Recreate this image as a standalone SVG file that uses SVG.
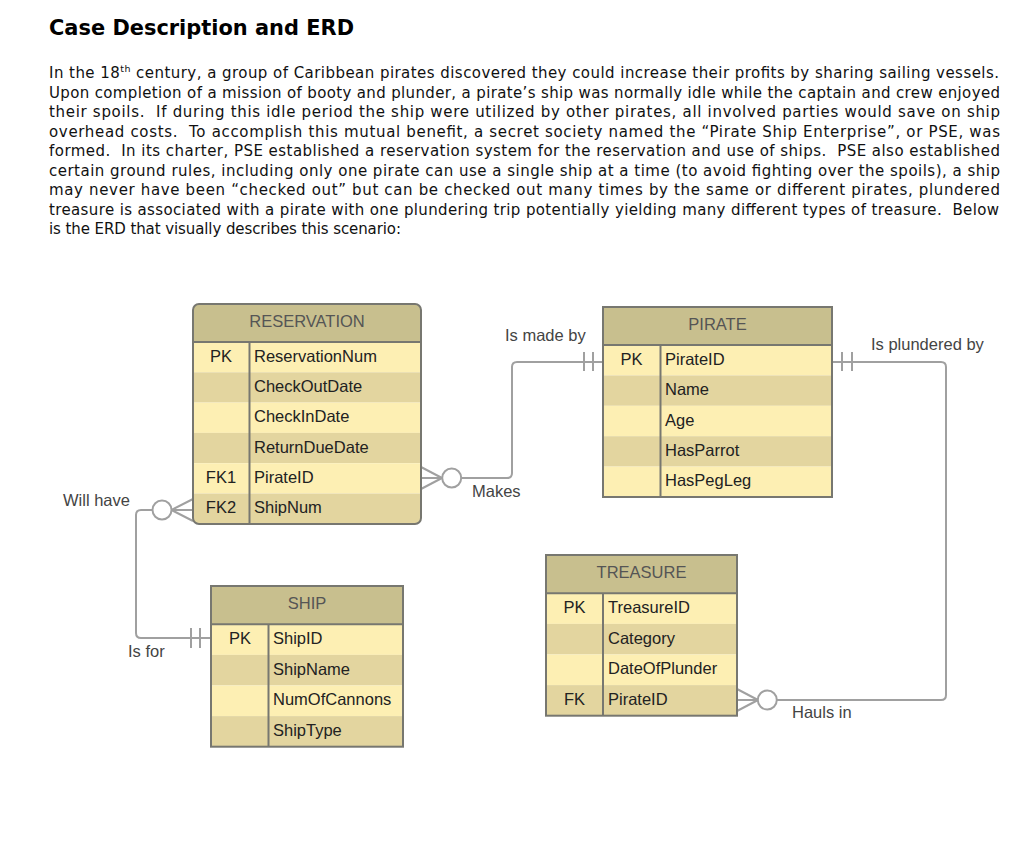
<svg xmlns="http://www.w3.org/2000/svg" width="1024" height="841" viewBox="0 0 1024 841">
<style>
.title{font-family:"DejaVu Sans",Verdana,sans-serif;font-weight:bold;font-size:21px;fill:#000}
.body{font-family:"DejaVu Sans",Verdana,sans-serif;font-size:15px;fill:#111}
.sup{font-size:9.5px}
.hdr{fill:#c8bf8e}
.lt{fill:#fdefb3}
.dk{fill:#e3d59f}
.edge{fill:none;stroke:#777770;stroke-width:2}
.div{stroke:#777770;stroke-width:2}
.htxt{font-family:"Liberation Sans",Arial,sans-serif;font-size:16.5px;fill:#555;text-anchor:middle}
.key{font-family:"Liberation Sans",Arial,sans-serif;font-size:16.5px;fill:#222;text-anchor:middle}
.fld{font-family:"Liberation Sans",Arial,sans-serif;font-size:16.5px;fill:#222}
.lbl{font-family:"Liberation Sans",Arial,sans-serif;font-size:16.5px;fill:#444}
.con{fill:none;stroke:#a0a0a0;stroke-width:2}
.circ{fill:#fff;stroke:#a0a0a0;stroke-width:2}
</style>
<defs>
<clipPath id="resClip"><rect x="193" y="304" width="228" height="220" rx="6"/></clipPath>
</defs>
<rect width="1024" height="841" fill="#fff"/>

<g id="description">
<text class="title" x="49" y="35" textLength="305" lengthAdjust="spacingAndGlyphs">Case Description and ERD</text>
<text class="body" xml:space="preserve" x="49" y="78" textLength="950" lengthAdjust="spacing">In the 18<tspan class="sup" dy="-6">th</tspan><tspan dy="6"> century, a group of Caribbean pirates discovered they could increase their profits by sharing sailing vessels.</tspan></text>
<text class="body" xml:space="preserve" x="49" y="97.5" textLength="951" lengthAdjust="spacing">Upon completion of a mission of booty and plunder, a pirate’s ship was normally idle while the captain and crew enjoyed</text>
<text class="body" xml:space="preserve" x="49" y="117" textLength="951" lengthAdjust="spacing">their spoils.  If during this idle period the ship were utilized by other pirates, all involved parties would save on ship</text>
<text class="body" xml:space="preserve" x="49" y="136.5" textLength="951" lengthAdjust="spacing">overhead costs.  To accomplish this mutual benefit, a secret society named the “Pirate Ship Enterprise”, or PSE, was</text>
<text class="body" xml:space="preserve" x="49" y="156" textLength="951" lengthAdjust="spacing">formed.  In its charter, PSE established a reservation system for the reservation and use of ships.  PSE also established</text>
<text class="body" xml:space="preserve" x="49" y="175.5" textLength="951" lengthAdjust="spacing">certain ground rules, including only one pirate can use a single ship at a time (to avoid fighting over the spoils), a ship</text>
<text class="body" xml:space="preserve" x="49" y="195" textLength="951" lengthAdjust="spacing">may never have been “checked out” but can be checked out many times by the same or different pirates, plundered</text>
<text class="body" xml:space="preserve" x="49" y="214.5" textLength="950" lengthAdjust="spacing">treasure is associated with a pirate with one plundering trip potentially yielding many different types of treasure.  Below</text>
<text class="body" xml:space="preserve" x="49" y="234" textLength="352" lengthAdjust="spacing">is the ERD that visually describes this scenario:</text>
</g>

<g id="connectors">
<!-- RESERVATION FK1 to PIRATE -->
<path class="con" d="M421 467 L442 478 M421 478 L442 478 M421 489 L442 478"/>
<path class="con" d="M461 478 H507 Q512 478 512 473 V367 Q512 362 517 362 H603"/>
<circle class="circ" cx="451.7" cy="478" r="9.5"/>
<path class="con" d="M584 352 V371 M593 352 V371"/>
<!-- RESERVATION FK2 to SHIP -->
<path class="con" d="M193 499 L171.5 510 M193 510 L171.5 510 M193 521 L171.5 510"/>
<path class="con" d="M152.5 510 H141 Q136 510 136 515 V633 Q136 638 141 638 H211"/>
<circle class="circ" cx="162" cy="510" r="9.5"/>
<path class="con" d="M191 628 V648 M200 628 V648"/>
<!-- PIRATE to TREASURE -->
<path class="con" d="M832 362 H941 Q946 362 946 367 V695 Q946 700 941 700 H777"/>
<path class="con" d="M842 352 V371 M852 352 V371"/>
<path class="con" d="M737 689 L758 700 M737 700 L758 700 M737 711 L758 700"/>
<circle class="circ" cx="767.3" cy="700" r="9.5"/>
<text class="lbl" x="505" y="341">Is made by</text>
<text class="lbl" x="472" y="497">Makes</text>
<text class="lbl" x="871" y="350">Is plundered by</text>
<text class="lbl" x="792" y="718">Hauls in</text>
<text class="lbl" x="63" y="506">Will have</text>
<text class="lbl" x="128" y="657">Is for</text>
</g>

<g id="reservation">
<g clip-path="url(#resClip)">
<rect class="hdr" x="193" y="304" width="228" height="38"/>
<rect class="lt" x="193" y="342" width="228" height="30.3"/>
<rect class="dk" x="193" y="372.3" width="228" height="30.3"/>
<rect class="lt" x="193" y="402.6" width="228" height="30.3"/>
<rect class="dk" x="193" y="432.9" width="228" height="30.3"/>
<rect class="lt" x="193" y="463.2" width="228" height="30.3"/>
<rect class="dk" x="193" y="493.5" width="228" height="30.5"/>
</g>
<line class="div" x1="193" y1="342" x2="421" y2="342"/>
<line class="div" x1="249.5" y1="342" x2="249.5" y2="524"/>
<rect class="edge" x="193" y="304" width="228" height="220" rx="6"/>
<text class="htxt" x="307" y="327">RESERVATION</text>
<text class="key" x="221" y="361.5">PK</text>
<text class="fld" x="254" y="361.5">ReservationNum</text>
<text class="fld" x="254" y="391.5">CheckOutDate</text>
<text class="fld" x="254" y="422">CheckInDate</text>
<text class="fld" x="254" y="452.5">ReturnDueDate</text>
<text class="key" x="221" y="482.5">FK1</text>
<text class="fld" x="254" y="482.5">PirateID</text>
<text class="key" x="221" y="513">FK2</text>
<text class="fld" x="254" y="513">ShipNum</text>
</g>

<g id="pirate">
<rect class="hdr" x="603" y="307" width="229" height="38"/>
<rect class="lt" x="603" y="345" width="229" height="30.4"/>
<rect class="dk" x="603" y="375.4" width="229" height="30.4"/>
<rect class="lt" x="603" y="405.8" width="229" height="30.4"/>
<rect class="dk" x="603" y="436.2" width="229" height="30.4"/>
<rect class="lt" x="603" y="466.6" width="229" height="30.4"/>
<line class="div" x1="603" y1="345" x2="832" y2="345"/>
<line class="div" x1="660.5" y1="345" x2="660.5" y2="497"/>
<rect class="edge" x="603" y="307" width="229" height="190"/>
<text class="htxt" x="717.5" y="330">PIRATE</text>
<text class="key" x="631.5" y="364.5">PK</text>
<text class="fld" x="665" y="364.5">PirateID</text>
<text class="fld" x="665" y="395">Name</text>
<text class="fld" x="665" y="425.5">Age</text>
<text class="fld" x="665" y="455.5">HasParrot</text>
<text class="fld" x="665" y="486">HasPegLeg</text>
</g>

<g id="treasure">
<rect class="hdr" x="546" y="555" width="191" height="38.3"/>
<rect class="lt" x="546" y="593.3" width="191" height="30.6"/>
<rect class="dk" x="546" y="623.9" width="191" height="30.6"/>
<rect class="lt" x="546" y="654.5" width="191" height="30.6"/>
<rect class="dk" x="546" y="685.1" width="191" height="30.6"/>
<line class="div" x1="546" y1="593.3" x2="737" y2="593.3"/>
<line class="div" x1="603" y1="593.3" x2="603" y2="715.7"/>
<rect class="edge" x="546" y="555" width="191" height="160.7"/>
<text class="htxt" x="641.5" y="578">TREASURE</text>
<text class="key" x="574.5" y="613">PK</text>
<text class="fld" x="608" y="613">TreasureID</text>
<text class="fld" x="608" y="643.5">Category</text>
<text class="fld" x="608" y="674">DateOfPlunder</text>
<text class="key" x="574.5" y="704.5">FK</text>
<text class="fld" x="608" y="704.5">PirateID</text>
</g>

<g id="ship">
<rect class="hdr" x="211" y="586" width="192" height="38.3"/>
<rect class="lt" x="211" y="624.3" width="192" height="30.6"/>
<rect class="dk" x="211" y="654.9" width="192" height="30.6"/>
<rect class="lt" x="211" y="685.5" width="192" height="30.6"/>
<rect class="dk" x="211" y="716.1" width="192" height="30.6"/>
<line class="div" x1="211" y1="624.3" x2="403" y2="624.3"/>
<line class="div" x1="268.5" y1="624.3" x2="268.5" y2="746.7"/>
<rect class="edge" x="211" y="586" width="192" height="160.7"/>
<text class="htxt" x="307" y="609">SHIP</text>
<text class="key" x="240" y="644">PK</text>
<text class="fld" x="273" y="644">ShipID</text>
<text class="fld" x="273" y="674.5">ShipName</text>
<text class="fld" x="273" y="705">NumOfCannons</text>
<text class="fld" x="273" y="735.5">ShipType</text>
</g>
</svg>
